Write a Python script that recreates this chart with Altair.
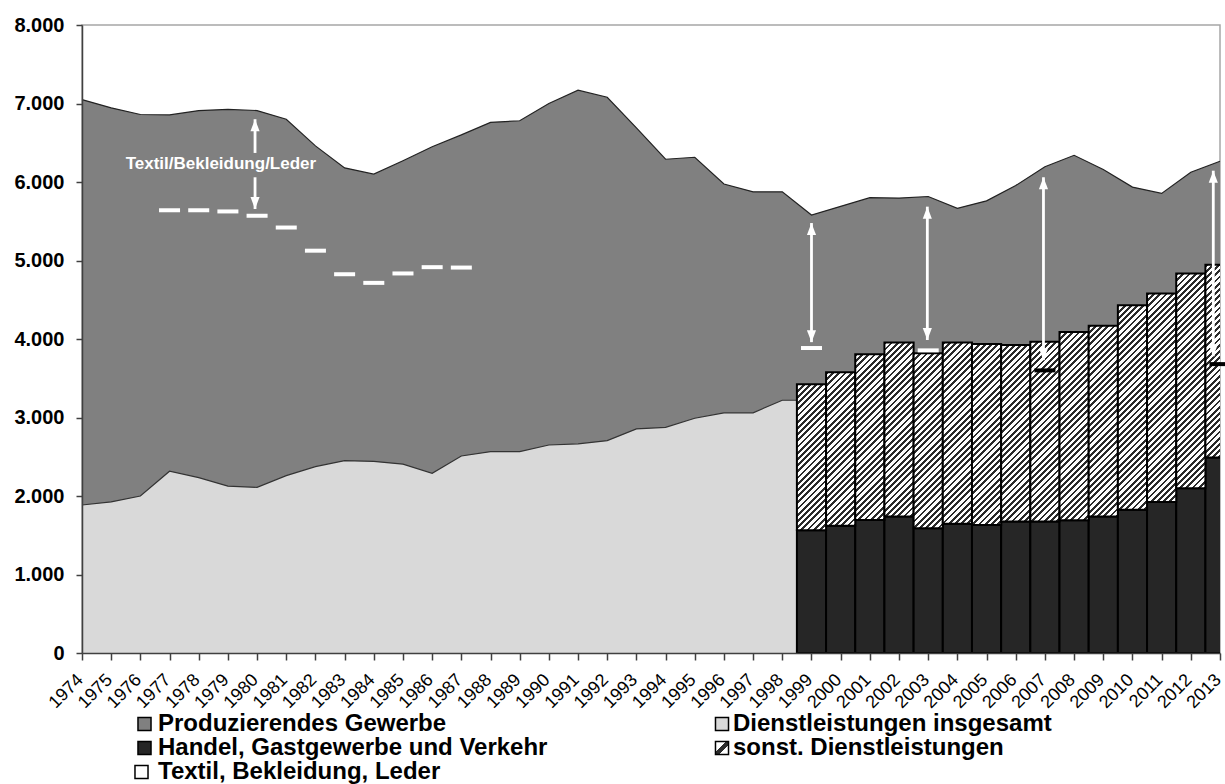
import altair as alt
import pandas as pd

# ---------------- data ----------------
years = list(range(1974, 2014))
produzierendes = [7050, 6945, 6860, 6855, 6910, 6925, 6910, 6800, 6460, 6180,
                  6100, 6270, 6450, 6600, 6760, 6780, 7000, 7170, 7080, 6690,
                  6290, 6315, 5975, 5875, 5875, 5580, 5690, 5800, 5795, 5815,
                  5665, 5760, 5955, 6195, 6340, 6160, 5935, 5855, 6125, 6265]

dienst_years = list(range(1974, 2000))
dienstleistungen = [1885, 1925, 2000, 2315, 2235, 2125, 2110, 2260, 2375, 2450,
                    2440, 2405, 2290, 2510, 2565, 2565, 2650, 2665, 2705, 2855,
                    2875, 2990, 3060, 3060, 3220, 3220]

bar_years = list(range(1999, 2014))
handel = [1565, 1620, 1695, 1740, 1590, 1645, 1630, 1675, 1675, 1690,
          1740, 1825, 1925, 2100, 2490]
dienst_total = [3425, 3575, 3805, 3955, 3820, 3955, 3935, 3925, 3965, 4090,
                4170, 4430, 4580, 4835, 4945]

textil_years = [1977, 1978, 1979, 1980, 1981, 1982, 1983, 1984, 1985, 1986,
                1987, 1999, 2003, 2007, 2013]
textil = [5640, 5640, 5625, 5570, 5420, 5125, 4825, 4715, 4835, 4915,
          4910, 3885, 3855, 3600, 3680]

arrow_x = [1979.93, 1999.0, 2002.97, 2006.95, 2012.77]
arrow_top = [6800, 5477, 5686, 6060, 6144]
arrow_bottom = [5656, 3960, 3987, 3730, 3780]
arrow_gap = (6370, 6060)           # gap in the first arrow for its label
arrow_label = "Textil/Bekleidung/Leder"
arrow_label_pos = (1978.76, 6230)

legend_col1 = ["Produzierendes Gewerbe", "Handel, Gastgewerbe und Verkehr",
               "Textil, Bekleidung, Leder"]
legend_col2 = ["Dienstleistungen insgesamt", "sonst. Dienstleistungen"]

# ---------------- style / layout ----------------
PLOT_W, PLOT_H = 1138, 628
FONT = "Liberation Sans"
C_PROD = "#808080"
C_DIENST = "#d9d9d9"
C_HANDEL = "#262626"
C_HATCH = "#2b2b2b"
YMAX = 8000
X0, X1 = 1974, 2013
PX_PER_YEAR = PLOT_W / (X1 - X0)


def hatch(w_px, h_px, period=6.2, dark_frac=0.45):
    L = w_px + h_px
    stops = []
    pos = 0.0
    while pos < L - 1e-9:
        d_end = min(pos + period * dark_frac, L)
        w_end = min(pos + period, L)
        stops += [
            {"offset": pos / L, "color": C_HATCH},
            {"offset": d_end / L, "color": C_HATCH},
            {"offset": d_end / L, "color": "#ffffff"},
            {"offset": w_end / L, "color": "#ffffff"},
        ]
        pos += period
    a = L / (w_px ** 2 + h_px ** 2)
    return {"gradient": "linear", "stops": stops,
            "x1": 0, "y1": 0, "x2": a * w_px, "y2": a * h_px}


x_scale = alt.Scale(domain=[X0, X1], nice=False, zero=False)
y_scale = alt.Scale(domain=[0, YMAX], nice=False, zero=True)

x_axis = alt.Axis(values=years, format="d", labelAngle=-45, labelAlign="right",
                  labelBaseline="middle", labelFont=FONT, labelFontSize=18,
                  labelColor="black", labelPadding=17, labelOffset=-2,
                  tickSize=7, tickWidth=1.5,
                  tickColor="#404040", domainColor="#404040", domainWidth=1.5,
                  labelOverlap=False, labelFlush=False, labelBound=False,
                  grid=False, title=None, zindex=1)
y_axis = alt.Axis(values=list(range(0, YMAX + 1, 1000)),
                  labelExpr="replace(format(datum.value, ','), ',', '.')",
                  labelFont=FONT, labelFontSize=20, labelFontWeight="bold",
                  labelColor="black", labelPadding=12, tickSize=6, tickWidth=1.5,
                  tickColor="#404040", domainColor="#404040", domainWidth=1.5,
                  grid=False, title=None, zindex=1)


def X(field):
    return alt.X(field, type="quantitative", scale=x_scale, axis=x_axis)


def Y(field):
    return alt.Y(field, type="quantitative", scale=y_scale, axis=y_axis)


# ---------------- tables ----------------
prod_df = pd.DataFrame({"year": years, "value": produzierendes})
dienst_df = pd.DataFrame({"year": dienst_years, "value": dienstleistungen})
bars_df = pd.DataFrame({"year": bar_years, "handel": handel, "total": dienst_total})
totals = dict(zip(bar_years, dienst_total))
textil_df = pd.DataFrame({"year": textil_years, "value": textil})
textil_df["inside"] = [bool(y in totals and v < totals[y])
                       for y, v in zip(textil_years, textil)]

shaft_rows = []
for i, (x, t, b) in enumerate(zip(arrow_x, arrow_top, arrow_bottom)):
    if i == 0:
        shaft_rows.append({"x": x, "y1": t, "y2": arrow_gap[0]})
        shaft_rows.append({"x": x, "y1": arrow_gap[1], "y2": b})
    else:
        shaft_rows.append({"x": x, "y1": t, "y2": b})
shaft_df = pd.DataFrame(shaft_rows)
heads_up = pd.DataFrame({"x": arrow_x, "y": arrow_top})
heads_dn = pd.DataFrame({"x": arrow_x, "y": arrow_bottom})

# ---------------- layers ----------------
layers = []
layers.append(alt.Chart(prod_df).mark_area(color=C_PROD).encode(
    x=X("year"), y=Y("value")))
layers.append(alt.Chart(prod_df).mark_line(color="#222222", strokeWidth=1.2).encode(
    x=X("year"), y=Y("value")))
layers.append(alt.Chart(dienst_df).mark_area(color=C_DIENST).encode(
    x=X("year"), y=Y("value")))
layers.append(alt.Chart(dienst_df).mark_line(color="#333333", strokeWidth=1.2).encode(
    x=X("year"), y=Y("value")))

bar_base = alt.Chart(bars_df).transform_calculate(
    xa="datum.year - 0.5", xb="datum.year + 0.5", zero="0")
layers.append(bar_base.mark_bar(fill=C_HANDEL, stroke="black", strokeWidth=2,
                                clip=True).encode(
    x=X("xa"), x2="xb", y=Y("zero"), y2="handel"))
for yr, h, tot in zip(bar_years, handel, dienst_total):
    h_px = (tot - h) * PLOT_H / YMAX
    layers.append(bar_base.transform_filter(f"datum.year == {yr}").mark_bar(
        fill=hatch(PX_PER_YEAR, h_px), stroke="black", strokeWidth=2,
        clip=True).encode(x=X("xa"), x2="xb", y=Y("handel"), y2="total"))

layers.append(alt.Chart(textil_df).transform_calculate(
    xa="datum.year - 0.36", xb="datum.year + 0.36").mark_rule(
    strokeWidth=4, strokeCap="butt").encode(
    x=X("xa"), x2="xb", y=Y("value"),
    color=alt.condition("datum.inside", alt.value("black"), alt.value("white"))))

layers.append(alt.Chart(shaft_df).mark_rule(color="white", strokeWidth=2.8,
                                            strokeCap="butt").encode(
    x=X("x"), y=Y("y1"), y2="y2"))
layers.append(alt.Chart(heads_up).mark_point(
    shape="M0,0L-0.38,1L0.38,1Z", size=576, filled=True, color="white",
    opacity=1).encode(x=X("x"), y=Y("y")))
layers.append(alt.Chart(heads_dn).mark_point(
    shape="M0,0L-0.38,-1L0.38,-1Z", size=576, filled=True, color="white",
    opacity=1).encode(x=X("x"), y=Y("y")))

lab_df = pd.DataFrame({"x": [arrow_label_pos[0]], "y": [arrow_label_pos[1]],
                       "t": [arrow_label]})
layers.append(alt.Chart(lab_df).mark_text(font=FONT, fontSize=17, fontWeight="bold",
                                          color="white", align="center",
                                          baseline="middle").encode(
    x=X("x"), y=Y("y"), text="t:N"))

# ---------------- custom legend ----------------
dummy = pd.DataFrame({"d": [0]})
legend_fills = {
    "Produzierendes Gewerbe": C_PROD,
    "Handel, Gastgewerbe und Verkehr": C_HANDEL,
    "Textil, Bekleidung, Leder": "white",
    "Dienstleistungen insgesamt": C_DIENST,
    "sonst. Dienstleistungen": {"gradient": "linear", "x1": 0, "y1": 0, "x2": 1, "y2": 1,
                                "stops": [{"offset": 0, "color": "white"},
                                          {"offset": 0.42, "color": "white"},
                                          {"offset": 0.42, "color": C_HATCH},
                                          {"offset": 0.62, "color": C_HATCH},
                                          {"offset": 0.62, "color": "white"},
                                          {"offset": 1, "color": "white"}]},
}
ROW_Y0, ROW_DY = 699, 24
cols = [(legend_col1, 62.5, 76), (legend_col2, 640, 651)]
for items, sq_x, tx_x in cols:
    for r, name in enumerate(items):
        yy = ROW_Y0 + r * ROW_DY
        sx = sq_x - 3 if name.startswith("Textil") else sq_x
        layers.append(alt.Chart(dummy).mark_square(
            size=170, fill=legend_fills[name], stroke="black", strokeWidth=1.5,
            opacity=1, fillOpacity=1).encode(x=alt.value(sx), y=alt.value(yy)))
        layers.append(alt.Chart(dummy).mark_text(
            text=name, font=FONT, fontSize=24, fontWeight="bold", color="black",
            align="left", baseline="middle").encode(
            x=alt.value(tx_x), y=alt.value(yy)))

chart = alt.layer(*layers).properties(
    width=PLOT_W, height=PLOT_H,
    autosize=alt.AutoSizeParams(type="none"),
    padding={"left": 82, "top": 25, "right": 5, "bottom": 131},
    background="white",
).configure_view(stroke="#a6a6a6", strokeWidth=1.5)

chart.save("out.html", embed_options={"renderer": "svg", "actions": False})
